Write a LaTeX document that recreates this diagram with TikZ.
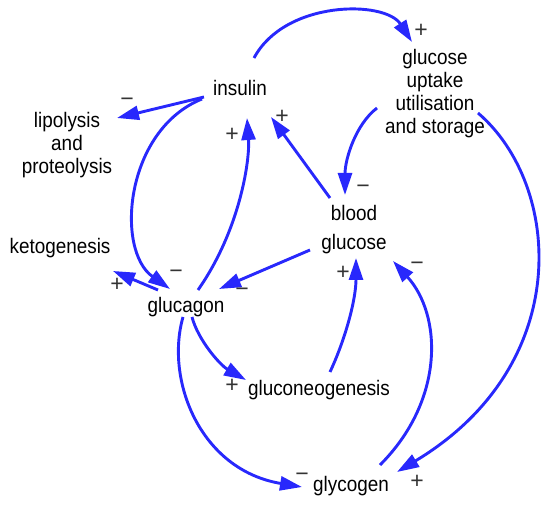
\documentclass[tikz,border=0pt]{standalone}
\usepackage{fontspec}
\setmainfont[FakeStretch=0.9]{Liberation Sans}
\newfontfamily\signfont{Liberation Sans}
\usetikzlibrary{arrows.meta,calc}
\definecolor{arrowblue}{RGB}{40,40,252}
\tikzset{
  lbl/.style={inner sep=0pt,align=center,font=\fontsize{21}{23}\selectfont},
  sgn/.style={inner sep=0pt,text=black!80,font=\signfont\fontsize{23}{23}\selectfont},
  link/.style={draw=arrowblue,line width=2.9pt,-{Triangle[length=22pt,width=14pt]}},
}
\begin{document}
\begin{tikzpicture}[x=1pt,y=-1pt]
\useasboundingbox (0,0) rectangle (550,505);
% nodes
\node[lbl] (ins) at (240,88) {insulin};
\node[lbl] (gus) at (435,94) {glucose\\uptake\\utilisation\\and storage};
\node[lbl] (lip) at (67,145) {lipolysis\\and\\proteolysis};
\node[lbl] (bg) at (354,230) {blood\\[6pt]glucose};
\node[lbl] (keto) at (60,248) {ketogenesis};
\node[lbl] (gcg) at (186,307) {glucagon};
\node[lbl] (gng) at (319,390) {gluconeogenesis};
\node[lbl] (gly) at (351,486) {glycogen};
% connectors
\draw[link] ($(ins)+(14,-30)$) .. controls (285,0) and (385,0) .. ($(gus)+(-23,-52)$);
\draw[link] ($(ins)+(-36,9)$) -- ($(lip)+(50,-27)$);
\draw[link] ($(ins)+(-38,11)$) .. controls (125,130) and (115,250) .. ($(gcg)+(-16,-18)$);
\draw[link] ($(gcg)+(12,-17)$) .. controls (240,230) and (250,160) .. ($(ins)+(7,30)$);
\draw[link] ($(bg)+(-24,-32)$) -- ($(ins)+(31,29)$);
\draw[link] ($(gus)+(-58,14)$) .. controls (355,125) and (345,160) .. ($(bg)+(-9,-35)$);
\draw[link] ($(gus)+(43,19)$) .. controls (562,185) and (575,365) .. ($(gly)+(46,-14)$);
\draw[link] ($(bg)+(-44,20)$) -- ($(gcg)+(33,-18)$);
\draw[link] ($(gcg)+(-28,-17)$) -- ($(keto)+(53,23)$);
\draw[link] ($(gcg)+(6,10)$) .. controls (198,340) and (220,365) .. ($(gng)+(-73,-10)$);
\draw[link] ($(gng)+(11,-18)$) .. controls (345,340) and (356,300) .. ($(bg)+(2,28)$);
\draw[link] ($(gly)+(29,-21)$) .. controls (445,400) and (442,315) .. ($(bg)+(39,31)$);
\draw[link] ($(gcg)+(-3,10)$) .. controls (165,380) and (200,470) .. ($(gly)+(-49,1)$);
% signs
\node[sgn] (s1) at (421,31) {+};
\node[sgn] (s2) at (127,102) {−};
\node[sgn] (s3) at (176,274) {−};
\node[sgn] (s4) at (232,135) {+};
\node[sgn] (s5) at (282,117) {+};
\node[sgn] (s6) at (363,189) {−};
\node[sgn] (s7) at (417,482) {+};
\node[sgn] (s8) at (242,292) {−};
\node[sgn] (s9) at (117,285) {+};
\node[sgn] (s10) at (232,386) {+};
\node[sgn] (s11) at (343,273) {+};
\node[sgn] (s12) at (417,266) {−};
\node[sgn] (s13) at (302,477) {−};
\end{tikzpicture}
\end{document}
